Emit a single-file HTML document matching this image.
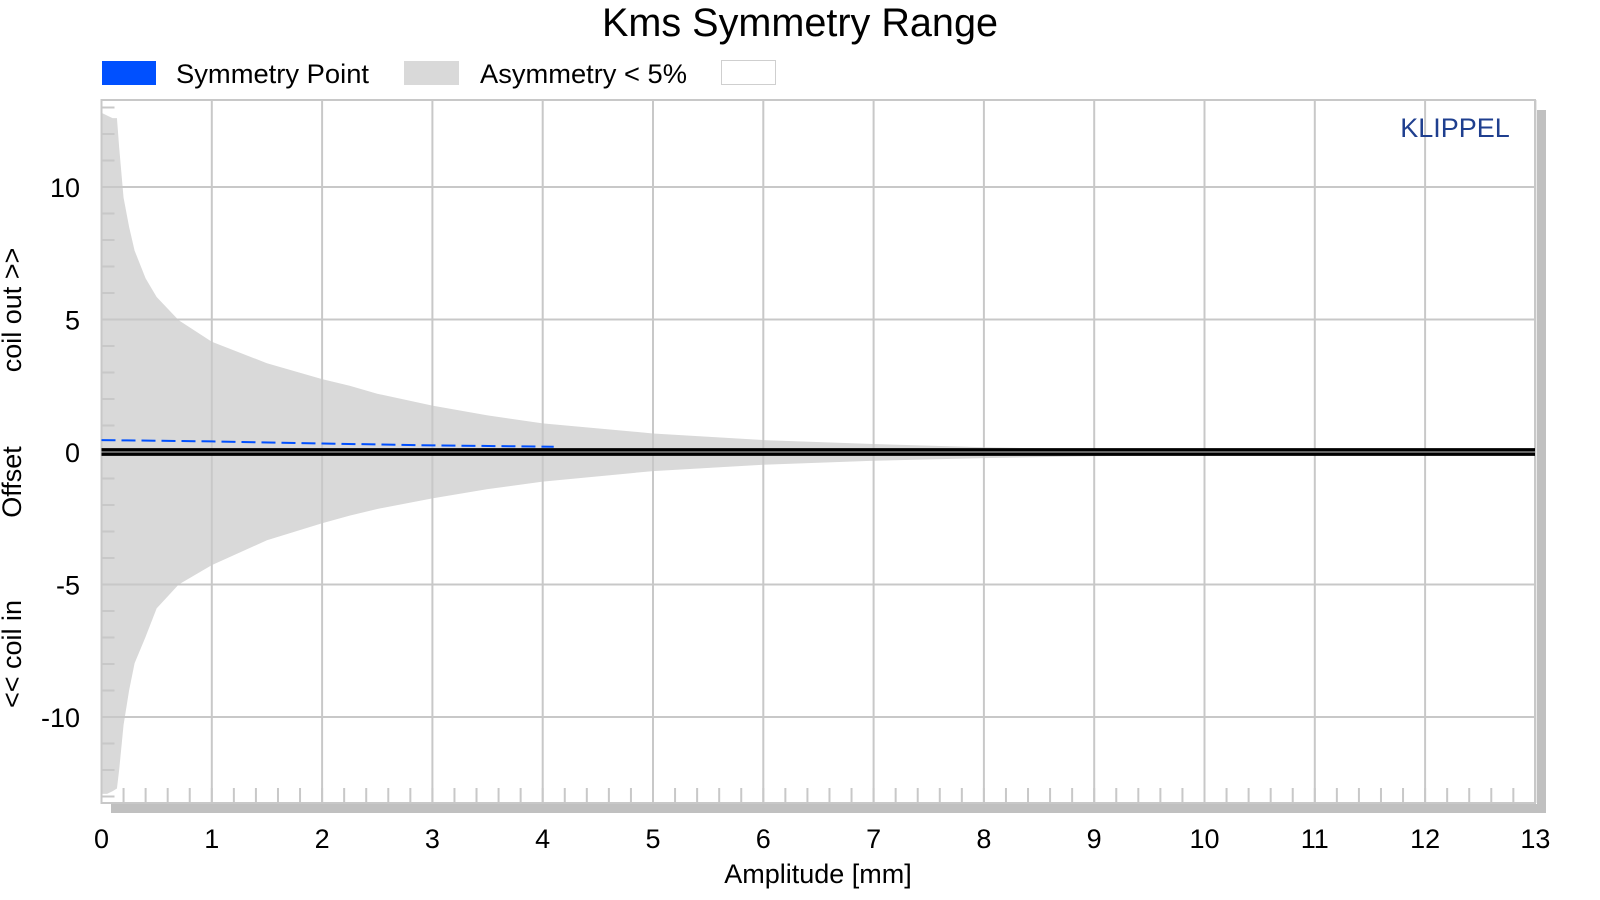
<!DOCTYPE html>
<html><head><meta charset="utf-8"><style>
html,body{margin:0;padding:0;background:#fff;}
svg{display:block;font-family:"Liberation Sans",Arial,sans-serif;}
</style></head><body>
<svg id="chart" width="1600" height="900" viewBox="0 0 1600 900">
<text x="800" y="36" font-size="40" text-anchor="middle" textLength="396" lengthAdjust="spacingAndGlyphs" fill="#000">Kms Symmetry Range</text>
<g>
<rect x="102" y="61" width="54" height="24" fill="#0050ff"/>
<text x="176" y="83" font-size="27" textLength="193" lengthAdjust="spacingAndGlyphs" fill="#000">Symmetry Point</text>
<rect x="404" y="61" width="55" height="24" fill="#d9d9d9"/>
<text x="480" y="83" font-size="27" textLength="207" lengthAdjust="spacingAndGlyphs" fill="#000">Asymmetry &lt; 5%</text>
<rect x="721.5" y="60.5" width="54" height="24" fill="#fff" stroke="#cfcfcf"/>
</g>
<rect x="1537" y="110" width="9" height="703" fill="#c0c0c0"/>
<rect x="111" y="804" width="1435" height="9" fill="#c0c0c0"/>
<g id="plot"></g>
<text x="1455" y="137" font-size="27" text-anchor="middle" fill="#1f3f8f">KLIPPEL</text>
<text x="818" y="883" font-size="27" text-anchor="middle" fill="#000">Amplitude [mm]</text>
<text transform="translate(21,310) rotate(-90)" font-size="27" text-anchor="middle" fill="#000">coil out &gt;&gt;</text>
<text transform="translate(21,482) rotate(-90)" font-size="27" text-anchor="middle" fill="#000">Offset</text>
<text transform="translate(21,654) rotate(-90)" font-size="27" text-anchor="middle" fill="#000">&lt;&lt; coil in</text>
</svg>
<script>
const envX=[0,0.05,0.1,0.14,0.16,0.2,0.25,0.3,0.4,0.5,0.7,1,1.5,2,2.25,2.5,3,3.5,4,5,6,7,8,9,10,11,12,12.6];
const envUpper=[12.8,12.7,12.6,12.6,11.5,9.6,8.5,7.6,6.55,5.85,4.97,4.16,3.35,2.75,2.5,2.2,1.75,1.38,1.08,0.7,0.45,0.3,0.18,0.1,0.06,0.04,0.02,0.01];
const envLower=[-12.9,-12.9,-12.8,-12.7,-12.0,-10.3,-9.0,-7.97,-6.97,-5.9,-5.0,-4.27,-3.33,-2.69,-2.4,-2.15,-1.75,-1.4,-1.12,-0.72,-0.48,-0.33,-0.23,-0.16,-0.11,-0.07,-0.04,-0.02];
const symX=[0,1,2,3,4.1];
const symY=[0.45,0.4,0.32,0.25,0.2];
const xTicks=[0,1,2,3,4,5,6,7,8,9,10,11,12,13];
const yTicks=[10,5,0,-5,-10];

const X0=101.5,XS=110.3,Y0=452,YS=26.5,TOP=100,BOT=803,RIGHT=1535;
const sx=v=>X0+v*XS, sy=v=>Y0-v*YS;
const NS='http://www.w3.org/2000/svg';
const plot=document.getElementById('plot');
function mk(tag,attrs){const e=document.createElementNS(NS,tag);for(const k in attrs)e.setAttribute(k,attrs[k]);plot.appendChild(e);return e;}

let d='M'+sx(envX[0])+','+sy(envUpper[0]);
for(let i=1;i<envX.length;i++)d+=' L'+sx(envX[i])+','+sy(envUpper[i]);
for(let i=envX.length-1;i>=0;i--)d+=' L'+sx(envX[i])+','+sy(envLower[i]);
d+='Z';
const env=mk('path',{d:d,fill:'#d9d9d9'});



xTicks.forEach(t=>{
  const g=mk('line',{x1:sx(t),x2:sx(t),y1:TOP,y2:BOT,stroke:'#c8c8c8','stroke-width':2});
  
  
  const l=mk('text',{x:sx(t),y:848,'font-size':27,'text-anchor':'middle',fill:'#000'});
  l.textContent=t;
  
  
});
yTicks.forEach(t=>{
  const g=mk('line',{x1:X0,x2:RIGHT,y1:sy(t),y2:sy(t),stroke:'#c8c8c8','stroke-width':2});
  
  
  const l=mk('text',{x:80,y:sy(t)+10,'font-size':27,'text-anchor':'end',fill:'#000'});
  l.textContent=t;
  
  
});
for(let v=-13;v<=13;v++){
  const m=mk('line',{x1:X0,x2:X0+13,y1:sy(v),y2:sy(v),stroke:'#c8c8c8','stroke-width':2});
  
  
}
for(let i=1;i<65;i++){
  const m=mk('line',{x1:sx(i*0.2),x2:sx(i*0.2),y1:788,y2:BOT,stroke:'#c8c8c8','stroke-width':2});
  
  
}
const fr=mk('rect',{x:X0,y:TOP,width:RIGHT-X0,height:BOT-TOP,fill:'none',stroke:'#c8c8c8','stroke-width':2});



[-2.2,2.2].forEach(o=>{
  const z=mk('line',{x1:X0,x2:RIGHT,y1:sy(0)+o,y2:sy(0)+o,stroke:'#000','stroke-width':3.4});
  
  
});

let p='M'+sx(symX[0])+','+sy(symY[0]);
for(let i=1;i<symX.length;i++)p+=' L'+sx(symX[i])+','+sy(symY[i]);
const sym=mk('path',{d:p,fill:'none',stroke:'#0050ff','stroke-width':2,'stroke-dasharray':'14,6'});


</script>
</body></html>
